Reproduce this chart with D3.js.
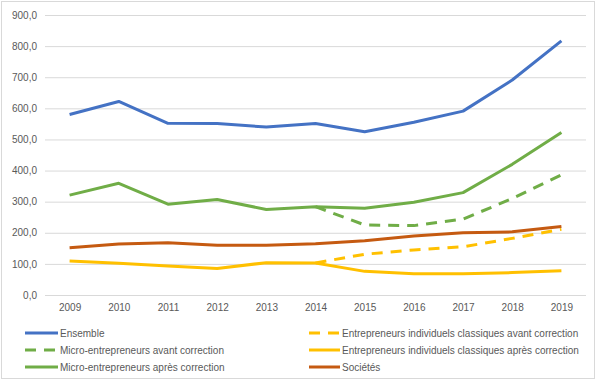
<!DOCTYPE html>
<html><head><meta charset="utf-8">
<script src="https://cdn.jsdelivr.net/npm/d3@7"></script>
<style>body{margin:0;background:#fff}svg{display:block;font-family:"Liberation Sans",Arial,sans-serif}</style>
</head><body><svg id="c" width="600" height="381"></svg>
<script>
const years = ["2009","2010","2011","2012","2013","2014","2015","2016","2017","2018","2019"];
const yTicks = [0,100,200,300,400,500,600,700,800,900];
const ensemble = [580,622,552,551,540,551,525,555,591,691,817];
const microAvant = [null,null,null,null,null,284,225,223,244,310,386];
const microApres = [321,359,292,307,275,284,279,298,329,420,522];
const eicAvant = [null,null,null,null,null,103,131,145,155,182,211];
const eicApres = [109,102,93,85,104,103,76,68,68,72,78];
const societes = [152,164,168,160,160,165,174,190,200,203,220];

const series = [
  {name:"Ensemble", values:ensemble, color:"#4472C4", dash:null},
  {name:"Micro-entrepreneurs avant correction", values:microAvant, color:"#70AD47", dash:"11,8"},
  {name:"Micro-entrepreneurs après correction", values:microApres, color:"#70AD47", dash:null},
  {name:"Entrepreneurs individuels classiques avant correction", values:eicAvant, color:"#FFC000", dash:"11,8"},
  {name:"Entrepreneurs individuels classiques après correction", values:eicApres, color:"#FFC000", dash:null},
  {name:"Sociétés", values:societes, color:"#C55A11", dash:null}
];
const drawOrder = [0,4,5,3,2,1];

const svg = d3.select("#c");
svg.append("rect").attr("x",1.5).attr("y",1.5).attr("width",593).attr("height",377)
  .attr("fill","#fff").attr("stroke","#D9D9D9");

const x = d3.scalePoint().domain(years).range([45,586]).padding(0.5);
const y = d3.scaleLinear().domain([0,900]).range([295,15]);
const fmt = v => d3.format(".1f")(v).replace(".",",");

const yAxis = svg.append("g").attr("transform","translate(45,0)")
  .call(d3.axisLeft(y).tickValues(yTicks).tickSize(-541).tickFormat(fmt).tickPadding(8));
yAxis.select(".domain").remove();
yAxis.selectAll(".tick line").attr("stroke","#D9D9D9").attr("stroke-width",1);
yAxis.selectAll(".tick text").attr("fill","#595959").attr("font-size","10px");

const xAxis = svg.append("g").attr("transform","translate(0,295)")
  .call(d3.axisBottom(x).tickSize(0).tickPadding(9));
xAxis.select(".domain").remove();
xAxis.selectAll(".tick text").attr("fill","#595959").attr("font-size","10px");

const line = d3.line().defined(d => d != null).x((d,i) => x(years[i])).y(d => y(d));
drawOrder.forEach(k => {
  const s = series[k];
  svg.append("path").attr("d", line(s.values)).attr("fill","none")
    .attr("stroke", s.color).attr("stroke-width",3).attr("stroke-linejoin","round")
    .attr("stroke-dasharray", s.dash);
});

const legendPos = [[25,333],[25,350],[25,367],[309,333],[309,350],[309,367]];
const legendOrder = [0,1,2,3,4,5];
legendOrder.forEach((k,j) => {
  const s = series[k];
  const [lx,ly] = legendPos[j];
  const len = j < 3 ? 33 : 31;
  svg.append("line").attr("x1",lx).attr("x2",lx+len).attr("y1",ly).attr("y2",ly)
    .attr("stroke",s.color).attr("stroke-width",3).attr("stroke-dasharray", s.dash);
  svg.append("text").attr("x",lx+len+2).attr("y",ly).attr("dy","0.35em")
    .attr("fill","#595959").attr("font-size","10px").text(s.name);
});
</script></body></html>
